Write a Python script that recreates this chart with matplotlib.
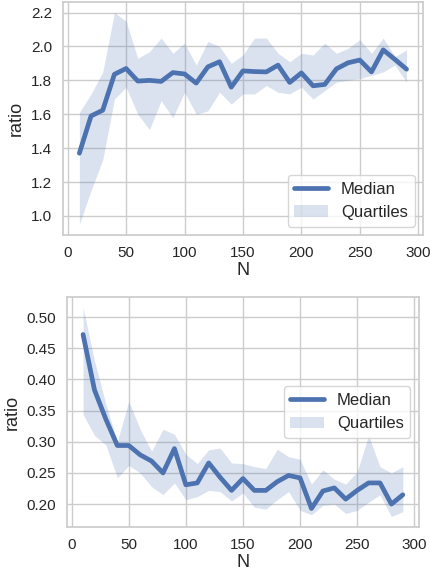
import matplotlib.pyplot as plt
import numpy as np
import seaborn as sns

sns.set_theme(style="whitegrid")
plt.rcParams['font.family'] = ['Liberation Sans', 'DejaVu Sans']

N = np.arange(10, 300, 10)

# top panel
med_top = [1.37, 1.59, 1.624, 1.836, 1.87, 1.796, 1.80, 1.794, 1.846, 1.838,
           1.784, 1.88, 1.91, 1.76, 1.856, 1.852, 1.85, 1.89, 1.788, 1.844,
           1.768, 1.776, 1.868, 1.904, 1.92, 1.85, 1.98, 1.924, 1.866]
q3_top = [1.61, 1.72, 1.85, 2.20, 2.15, 1.93, 1.97, 2.05, 1.96, 2.02,
          1.89, 2.03, 2.00, 1.90, 1.95, 2.05, 2.05, 1.96, 1.91, 1.96,
          1.95, 2.02, 1.96, 1.99, 2.04, 1.96, 2.05, 1.94, 1.98]
q1_top = [0.95, 1.15, 1.33, 1.69, 1.76, 1.60, 1.51, 1.68, 1.58, 1.73,
          1.60, 1.62, 1.73, 1.66, 1.72, 1.72, 1.77, 1.73, 1.72, 1.76,
          1.69, 1.74, 1.79, 1.80, 1.81, 1.83, 1.85, 1.89, 1.79]

# bottom panel
med_bot = [0.472, 0.383, 0.336, 0.294, 0.294, 0.279, 0.269, 0.250, 0.289, 0.231,
           0.234, 0.266, 0.243, 0.222, 0.241, 0.222, 0.222, 0.236, 0.246, 0.242,
           0.193, 0.221, 0.226, 0.208, 0.222, 0.234, 0.234, 0.200, 0.215]
q3_bot = [0.515, 0.43, 0.36, 0.30, 0.365, 0.32, 0.285, 0.32, 0.312, 0.28,
          0.265, 0.287, 0.29, 0.266, 0.265, 0.26, 0.257, 0.288, 0.276, 0.272,
          0.232, 0.255, 0.24, 0.232, 0.252, 0.31, 0.26, 0.25, 0.26]
q1_bot = [0.344, 0.31, 0.295, 0.242, 0.262, 0.25, 0.228, 0.215, 0.234, 0.207,
          0.212, 0.222, 0.22, 0.205, 0.218, 0.195, 0.192, 0.207, 0.22, 0.19,
          0.183, 0.198, 0.20, 0.185, 0.19, 0.203, 0.215, 0.18, 0.188]

fig, (ax1, ax2) = plt.subplots(2, 1, figsize=(4.3, 5.76), dpi=100)
ax1.set_position([0.1465, 0.592, 0.837, 0.4045])
ax2.set_position([0.156, 0.085, 0.818, 0.399])

color = "#4C72B0"
panels = [(ax1, med_top, q1_top, q3_top, "lower right"),
          (ax2, med_bot, q1_bot, q3_bot, "center right")]
for ax, med, lo, hi, loc in panels:
    ax.plot(N, med, color=color, lw=3.4, label="Median")
    ax.fill_between(N, lo, hi, color=color, alpha=0.2, lw=0, label="Quartiles")
    ax.set_xlabel("N", fontsize=13, labelpad=1)
    ax.set_ylabel("ratio", fontsize=13)
    ax.tick_params(labelsize=11, pad=2)
    ax.set_xticks([0, 50, 100, 150, 200, 250, 300])
    ax.legend(loc=loc, fontsize=12, frameon=True)

ax2.set_yticks([0.20, 0.25, 0.30, 0.35, 0.40, 0.45, 0.50])
ax2.yaxis.set_major_formatter(plt.FormatStrFormatter("%.2f"))

fig.savefig("out.png", dpi=100)
